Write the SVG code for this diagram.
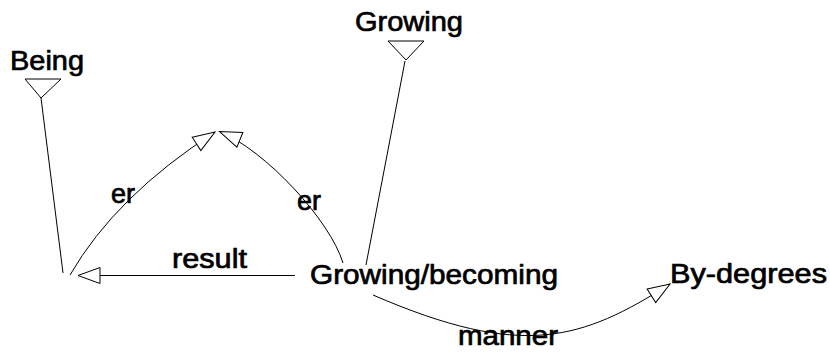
<svg xmlns="http://www.w3.org/2000/svg" width="830" height="352" viewBox="0 0 830 352">
<style>
text{font-family:"Liberation Sans",Arial,sans-serif;font-size:27px;fill:#000;stroke:#000;stroke-width:0.7}
.ln{fill:none;stroke:#000;stroke-width:1}
.tri{fill:#fff;stroke:#000;stroke-width:1}
</style>
<defs>
<marker id="ah" markerUnits="userSpaceOnUse" markerWidth="24" markerHeight="18" viewBox="-1 -1 24 18" refX="22" refY="8" orient="auto">
<path d="M0,0 L22,8 L0,16 Z" fill="#fff" stroke="#000" stroke-width="1"/>
</marker>
</defs>
<g id="connectors">
<path class="ln" d="M41,98 L63,273"/>
<path class="ln" d="M405,61 L366,265"/>
<path class="ln" d="M70,275 Q115.7,196 215,132" marker-end="url(#ah)"/>
<path class="ln" d="M343,263 C330,220 265,150 219.5,131.5" marker-end="url(#ah)"/>
<path class="ln" d="M295,275.5 L78,275.5" marker-end="url(#ah)"/>
<path class="ln" d="M373,295 C523,360 582,339.8 670,284" marker-end="url(#ah)"/>
</g>
<g id="node-being">
<text x="10" y="70" textLength="74" lengthAdjust="spacingAndGlyphs">Being</text>
<polygon class="tri" points="25,79 61,79 41,98"/>
</g>
<g id="node-growing">
<text x="355" y="31" textLength="108" lengthAdjust="spacingAndGlyphs">Growing</text>
<polygon class="tri" points="388,41 424,41 406,60"/>
</g>
<g id="node-growing-becoming">
<text x="310" y="284" textLength="248" lengthAdjust="spacingAndGlyphs">Growing/becoming</text>
</g>
<g id="node-by-degrees">
<text x="670" y="283" textLength="157" lengthAdjust="spacingAndGlyphs">By-degrees</text>
</g>
<g id="labels">
<text x="172" y="268" textLength="75" lengthAdjust="spacingAndGlyphs">result</text>
<text x="458" y="345" textLength="100" lengthAdjust="spacingAndGlyphs">manner</text>
<text x="111" y="203">er</text>
<text x="297" y="210">er</text>
</g>
</svg>
